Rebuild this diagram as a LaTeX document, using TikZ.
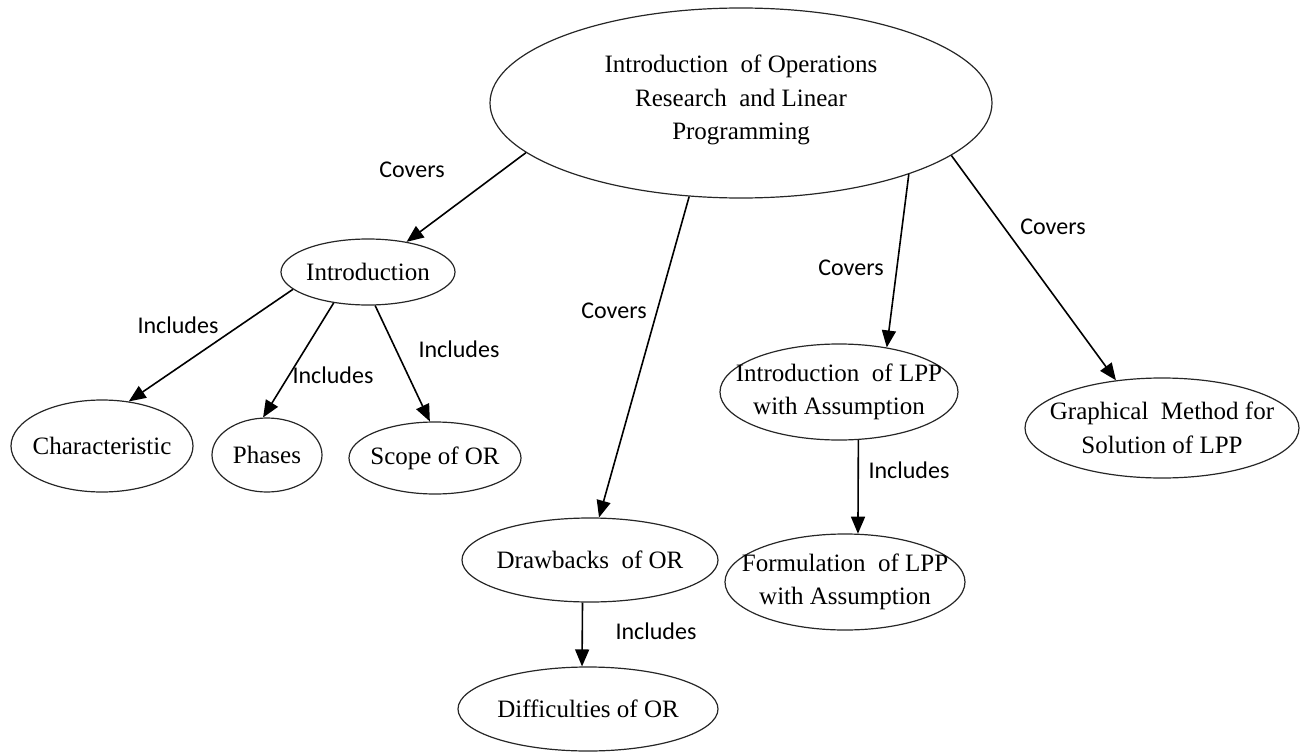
\documentclass[tikz,border=0pt]{standalone}
\usepackage{fontspec}
\setmainfont{Liberation Serif}
\newfontfamily\labelfont{Carlito}
\usetikzlibrary{shapes.geometric,arrows.meta}

\begin{document}
\begin{tikzpicture}[x=1pt,y=-1pt,
  ell/.style={draw=black!85, ellipse, inner sep=0pt, line width=1.2pt},
  txt/.style={font=\fontsize{25}{33.5}\selectfont, align=center, inner sep=0pt},
  lbl/.style={font=\labelfont\fontsize{24}{28}\selectfont, inner sep=0pt},
  arr/.style={line width=1.6pt, -{Triangle[length=17pt,width=14pt]}}
]
\useasboundingbox (0,0) rectangle (1315,752);

% concept bubbles
\node[ell, minimum width=502pt, minimum height=190pt,
  label={[txt, yshift=3pt]center:Introduction\ \ of Operations\\Research\ \ and Linear\\Programming}] (root) at (741,103) {};
\node[ell, minimum width=174pt, minimum height=66pt,
  label={[txt]center:Introduction}] (intro) at (368,272) {};
\node[ell, minimum width=182pt, minimum height=92pt,
  label={[txt]center:Characteristic}] (char) at (102,446) {};
\node[ell, minimum width=110pt, minimum height=74pt,
  label={[txt]center:Phases}] (phases) at (267,455) {};
\node[ell, minimum width=172pt, minimum height=72pt,
  label={[txt]center:Scope of OR}] (scope) at (435,458) {};
\node[ell, minimum width=256pt, minimum height=84pt,
  label={[txt]center:Drawbacks\ \ of OR}] (drawb) at (590,560) {};
\node[ell, minimum width=260pt, minimum height=84pt,
  label={[txt]center:Difficulties of OR}] (diff) at (588,709) {};
\node[ell, minimum width=238pt, minimum height=96pt,
  label={[txt]center:Introduction\ \ of LPP\\with Assumption}] (lppi) at (839,392) {};
\node[ell, minimum width=240pt, minimum height=96pt,
  label={[txt]center:Formulation\ \ of LPP\\with Assumption}] (lppf) at (845,582) {};
\node[ell, minimum width=274pt, minimum height=100pt,
  label={[txt]center:Graphical\ \ Method for\\Solution of LPP}] (graph) at (1162,428) {};

% connectors
\draw[arr] (root.193) -- (intro.38);
\draw[arr] (root.241) -- (drawb.78);
\draw[arr] (root.337) -- (lppi.43);
\draw[arr] (root.346) -- (graph.134);
\draw[arr] (intro.193) -- (char.59);
\draw[arr] (intro.222) -- (phases.96);
\draw[arr] (intro.282) -- (scope.98);
\draw[arr] (drawb.260) -- (diff.98);
\draw[arr] (lppi.292) -- (lppf.75);

% connector labels
\node[lbl] (l1) at (412,170) {Covers};
\node[lbl] (l2) at (614,311) {Covers};
\node[lbl] (l3) at (851,268) {Covers};
\node[lbl] (l4) at (1053,227) {Covers};
\node[lbl] (l5) at (178,325) {Includes};
\node[lbl] (l6) at (333,375) {Includes};
\node[lbl] (l7) at (459,349) {Includes};
\node[lbl] (l8) at (656,631) {Includes};
\node[lbl] (l9) at (909,470) {Includes};
\end{tikzpicture}
\end{document}
